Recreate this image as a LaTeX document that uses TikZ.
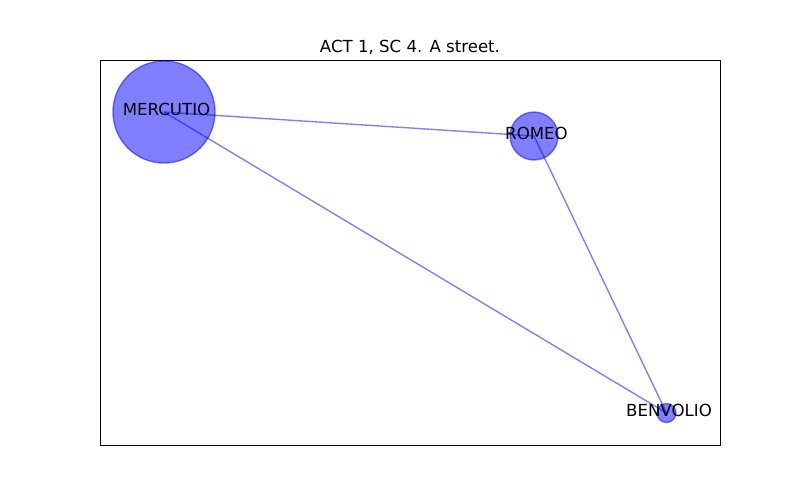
\documentclass[tikz,border=0pt]{standalone}
\usepackage{fontspec}
\setmainfont{DejaVu Sans}
\begin{document}
\begin{tikzpicture}[x=0.01in,y=-0.01in,
  person/.style={circle,draw=blue,fill=blue,opacity=0.5,inner sep=0pt,line width=1pt},
  tie/.style={draw=blue,opacity=0.5,line width=1pt},
  lbl/.style={font=\fontsize{12}{14}\selectfont,text=black,inner sep=0pt}]
\useasboundingbox (0,0) rectangle (800,500);
\draw[line width=0.7pt] (100,60) rectangle (720,445);
\node[lbl,anchor=base] (title) at (410,52) {ACT 1, SC 4. A street.};
\coordinate (cm) at (164,112);
\coordinate (cr) at (534,136);
\coordinate (cb) at (666.5,413);
\draw[tie] (cm) -- (cr);
\draw[tie] (cm) -- (cb);
\draw[tie] (cr) -- (cb);
\node[person,minimum size=1.02in] (m) at (cm) {};
\node[person,minimum size=0.48in] (r) at (cr) {};
\node[person,minimum size=0.19in] (b) at (cb) {};
\node[lbl] (lm) at ([shift={(2.5,-3)}]cm) {MERCUTIO};
\node[lbl] (lr) at ([shift={(2.5,-3)}]cr) {ROMEO};
\node[lbl] (lb) at ([shift={(2.5,-3)}]cb) {BENVOLIO};
\end{tikzpicture}
\end{document}
